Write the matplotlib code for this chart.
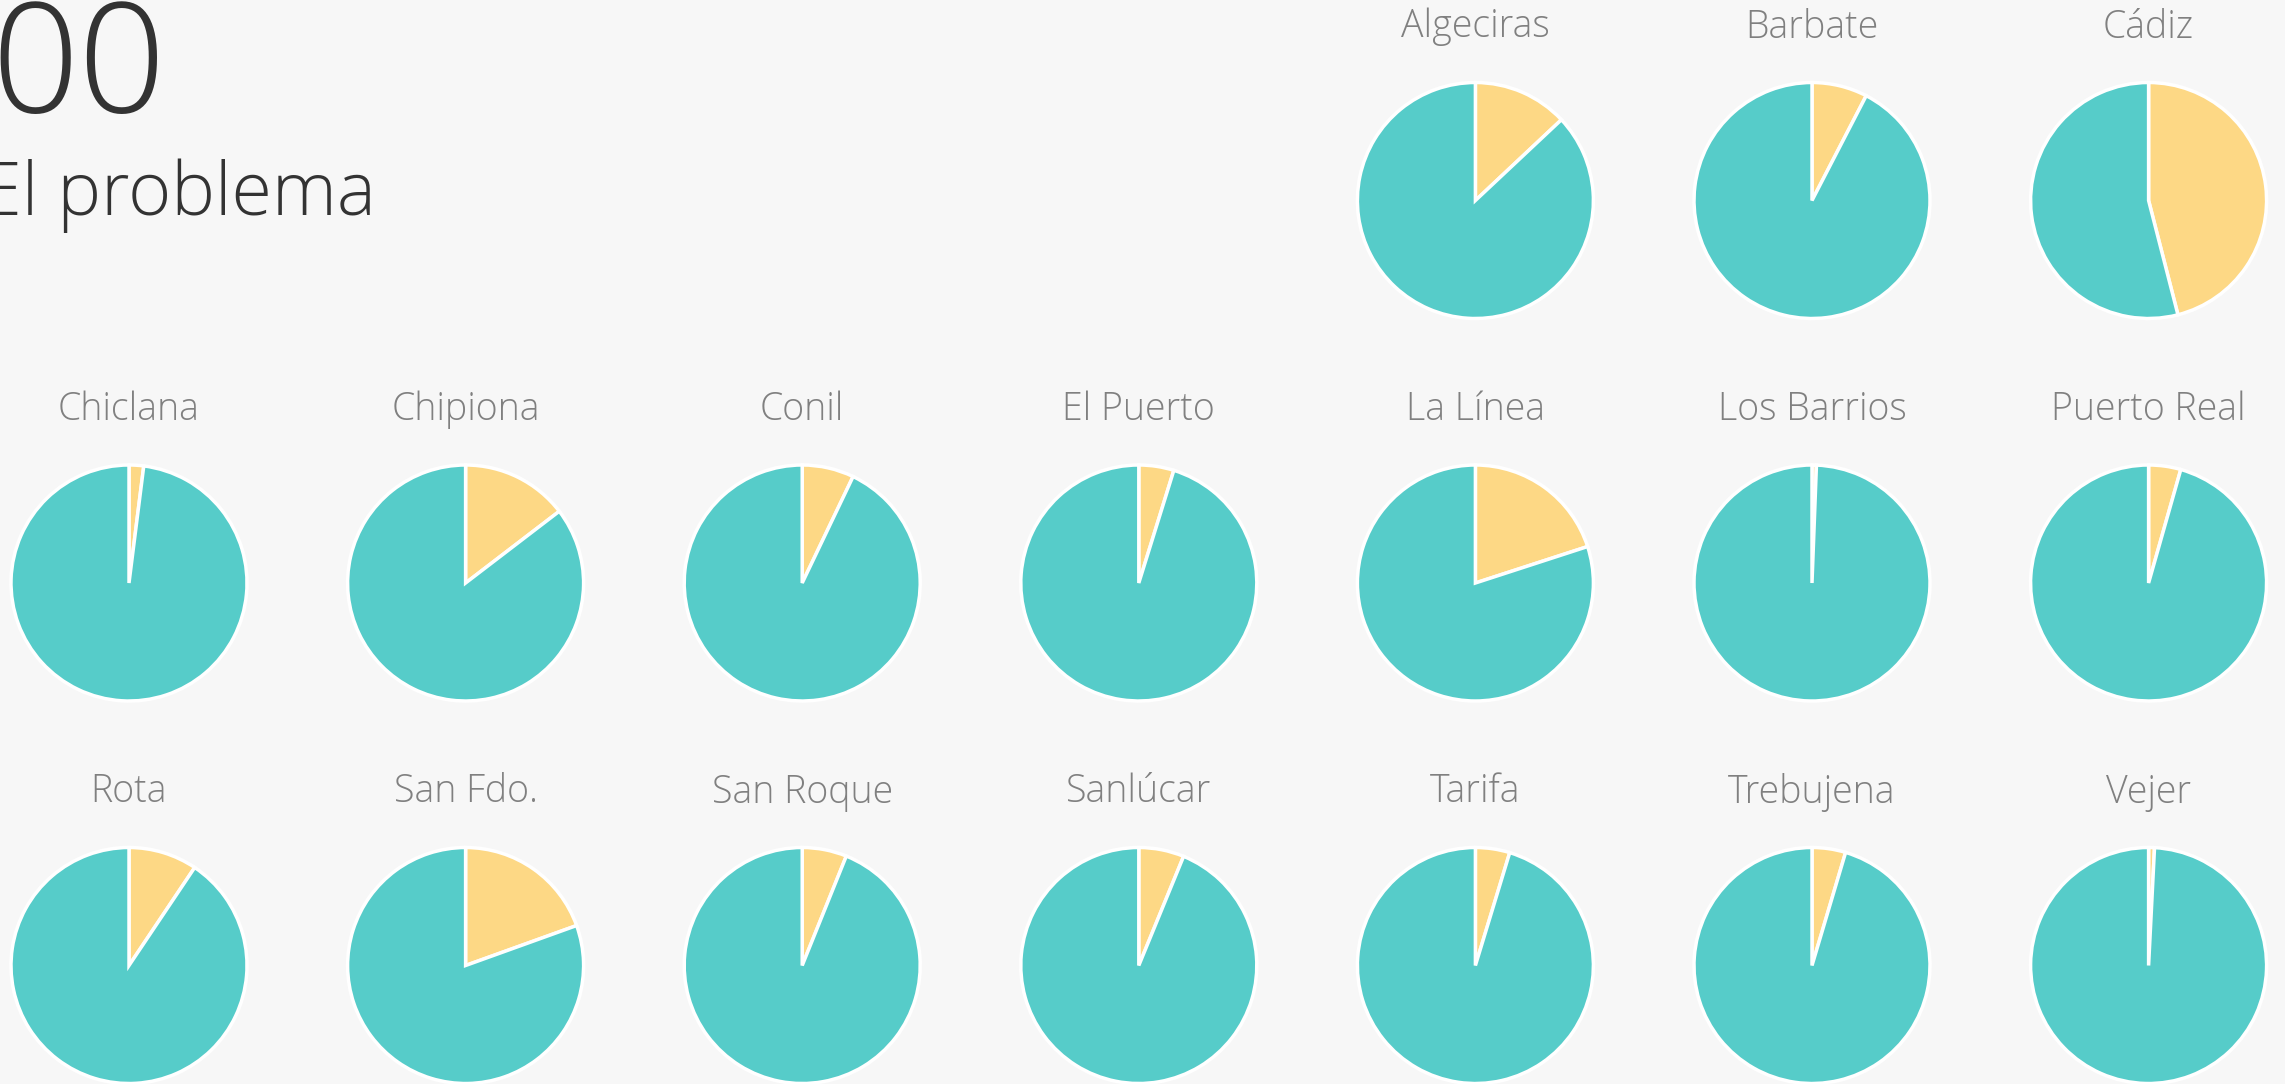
import matplotlib
matplotlib.use("Agg")
import matplotlib.pyplot as plt
from matplotlib import font_manager as fm

# ---- data ----
towns = ["Algeciras", "Barbate", "Cádiz",
         "Chiclana", "Chipiona", "Conil", "El Puerto", "La Línea", "Los Barrios", "Puerto Real",
         "Rota", "San Fdo.", "San Roque", "Sanlúcar", "Tarifa", "Trebujena", "Vejer"]
yellow_share = [13.0, 7.6, 46.0,
                2.0, 14.6, 7.1, 4.8, 20.0, 0.6, 4.4,
                9.4, 19.5, 6.1, 6.2, 4.7, 4.6, 0.8]
teal_share = [87.0, 92.4, 54.0,
              98.0, 85.4, 92.9, 95.2, 80.0, 99.4, 95.6,
              90.6, 80.5, 93.9, 93.8, 95.3, 95.4, 99.2]
big_number = "00"
subtitle = "El problema"

# ---- style ----
W, H = 2285, 1084
BG = "#f7f7f7"
TEAL = "#56ccc9"
YELLOW = "#fdd885"
avail = {f.name for f in fm.fontManager.ttflist}
FONT = "Open Sans" if "Open Sans" in avail else "DejaVu Sans"

fig = plt.figure(figsize=(W / 100, H / 100), dpi=100, facecolor=BG)

# headline texts (cut at left edge as in the reference)
fig.text(166 / W, 1 - 113 / H, big_number, ha="right", va="baseline",
         fontsize=110, color="#333333", family=FONT, fontweight="light")
fig.text(376 / W, 1 - 215 / H, subtitle, ha="right", va="baseline",
         fontsize=53, color="#333333", family=FONT, fontweight="light")

# grid layout of pies
x0, dx = 129, 336.6
y0, dy = 200.5, 382.5
r = 118
first_slot = 4
ncols = 7

for i, (name, y, t) in enumerate(zip(towns, yellow_share, teal_share)):
    slot = i + first_slot
    row, col = divmod(slot, ncols)
    cx = x0 + col * dx
    cy = y0 + row * dy
    ax = fig.add_axes([(cx - r) / W, 1 - (cy + r) / H, 2 * r / W, 2 * r / H])
    ax.set_facecolor("none")
    ax.pie([y, t], colors=[YELLOW, TEAL], startangle=90, counterclock=False,
           radius=1.0, wedgeprops=dict(edgecolor="white", linewidth=2.5))
    ax.set_xlim(-1.0, 1.0)
    ax.set_ylim(-1.0, 1.0)
    ax.axis("off")
    fig.text(cx / W, 1 - (cy - 163) / H, name, ha="center", va="baseline",
             fontsize=27, color="#808080", family=FONT, fontweight="light")

fig.savefig("out.png", dpi=100, facecolor=BG)
